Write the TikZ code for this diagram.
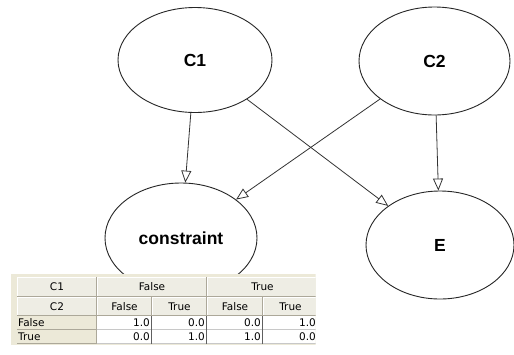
\documentclass[tikz,border=0pt]{standalone}
\usepackage{fontspec}
\setmainfont{Liberation Sans}
\newfontfamily\tabfont{DejaVu Sans}
\usetikzlibrary{arrows.meta,shapes.geometric}
\definecolor{panel}{HTML}{ECE9D8}
\definecolor{hdr}{HTML}{EEEDE4}
\definecolor{hdark}{HTML}{ACA899}
\definecolor{grid}{HTML}{C8C8C8}
\definecolor{vgrid}{HTML}{606060}
\newcommand\hcellbox[6]{%
  \fill[hdr] (#2,#3) rectangle (#4,#5);
  \draw[white,line width=1pt] (#2+0.5,#5) -- (#2+0.5,#3+0.5) -- (#4,#3+0.5);
  \draw[hdark,line width=1pt] (#2,#5-0.5) -- (#4-0.5,#5-0.5) -- (#4-0.5,#3);
  \node[tabtext] (#1) at ({(#2+#4)/2},{(#3+#5)/2}) {#6};}
\newcommand\lcellbox[6]{%
  \fill[panel] (#2,#3) rectangle (#4,#5);
  \draw[hdark,line width=1pt] (#2,#5-0.5) -- (#4-0.5,#5-0.5) -- (#4-0.5,#3);
  \node[tabtext,anchor=west] (#1) at (#2+1,{(#3+#5)/2}) {#6};}
\newcommand\dcellbox[6]{%
  \fill[white] (#2,#3) rectangle (#4,#5);
  \draw[grid,line width=1pt] (#2,#5-0.5) -- (#4,#5-0.5);
  \draw[vgrid,line width=1pt] (#4-0.5,#5) -- (#4-0.5,#3);
  \node[tabtext,anchor=east] (#1) at (#4-2,{(#3+#5)/2}) {#6};}
\begin{document}
\begin{tikzpicture}[x=1pt,y=-1pt,
  bn/.style={draw=black!85, line width=0.9pt, ellipse, inner sep=0pt,
    font=\fontsize{17.5}{20}\selectfont\bfseries},
  arr/.style={draw=black!80, line width=0.8pt,
    -{Triangle[open, length=12pt, width=10pt]}},
  tabtext/.style={inner sep=0pt, font=\tabfont\fontsize{10.5}{12}\selectfont, text=black}]
\useasboundingbox (0,0) rectangle (514,354);
\fill[white] (0,0) rectangle (514,354);

\node[bn, minimum width=154pt, minimum height=105pt] (c1) at (195,60) {C1};
\node[bn, minimum width=151pt, minimum height=108pt] (c2) at (434.5,61) {C2};
\node[bn, minimum width=152pt, minimum height=110pt] (cons) at (181,238) {constraint};
\node[bn, minimum width=148pt, minimum height=108pt] (e) at (440,245) {E};

\draw[arr] (c1) -- (cons);
\draw[arr] (c1) -- (e);
\draw[arr] (c2) -- (cons);
\draw[arr] (c2) -- (e);

\begin{scope}
\clip (0,268) rectangle (315.5,354);
\fill[panel] (11,274) rectangle (330,345);
\hcellbox{h1}{17}{277}{97}{297}{C1}
\hcellbox{h2}{97}{277}{207}{297}{False}
\hcellbox{h3}{207}{277}{318}{297}{True}
\hcellbox{g1}{17}{297}{97}{316}{C2}
\hcellbox{g2}{97}{297}{152}{316}{False}
\hcellbox{g3}{152}{297}{207}{316}{True}
\hcellbox{g4}{207}{297}{263}{316}{False}
\hcellbox{g5}{263}{297}{318}{316}{True}
\lcellbox{r1}{17}{316}{97}{330}{False}
\dcellbox{r1a}{97}{316}{152}{330}{1.0}
\dcellbox{r1b}{152}{316}{207}{330}{0.0}
\dcellbox{r1c}{207}{316}{263}{330}{0.0}
\dcellbox{r1d}{263}{316}{318}{330}{1.0}
\lcellbox{r2}{17}{330}{97}{344}{True}
\dcellbox{r2a}{97}{330}{152}{344}{0.0}
\dcellbox{r2b}{152}{330}{207}{344}{1.0}
\dcellbox{r2c}{207}{330}{263}{344}{1.0}
\dcellbox{r2d}{263}{330}{318}{344}{0.0}
\end{scope}
\end{tikzpicture}
\end{document}
